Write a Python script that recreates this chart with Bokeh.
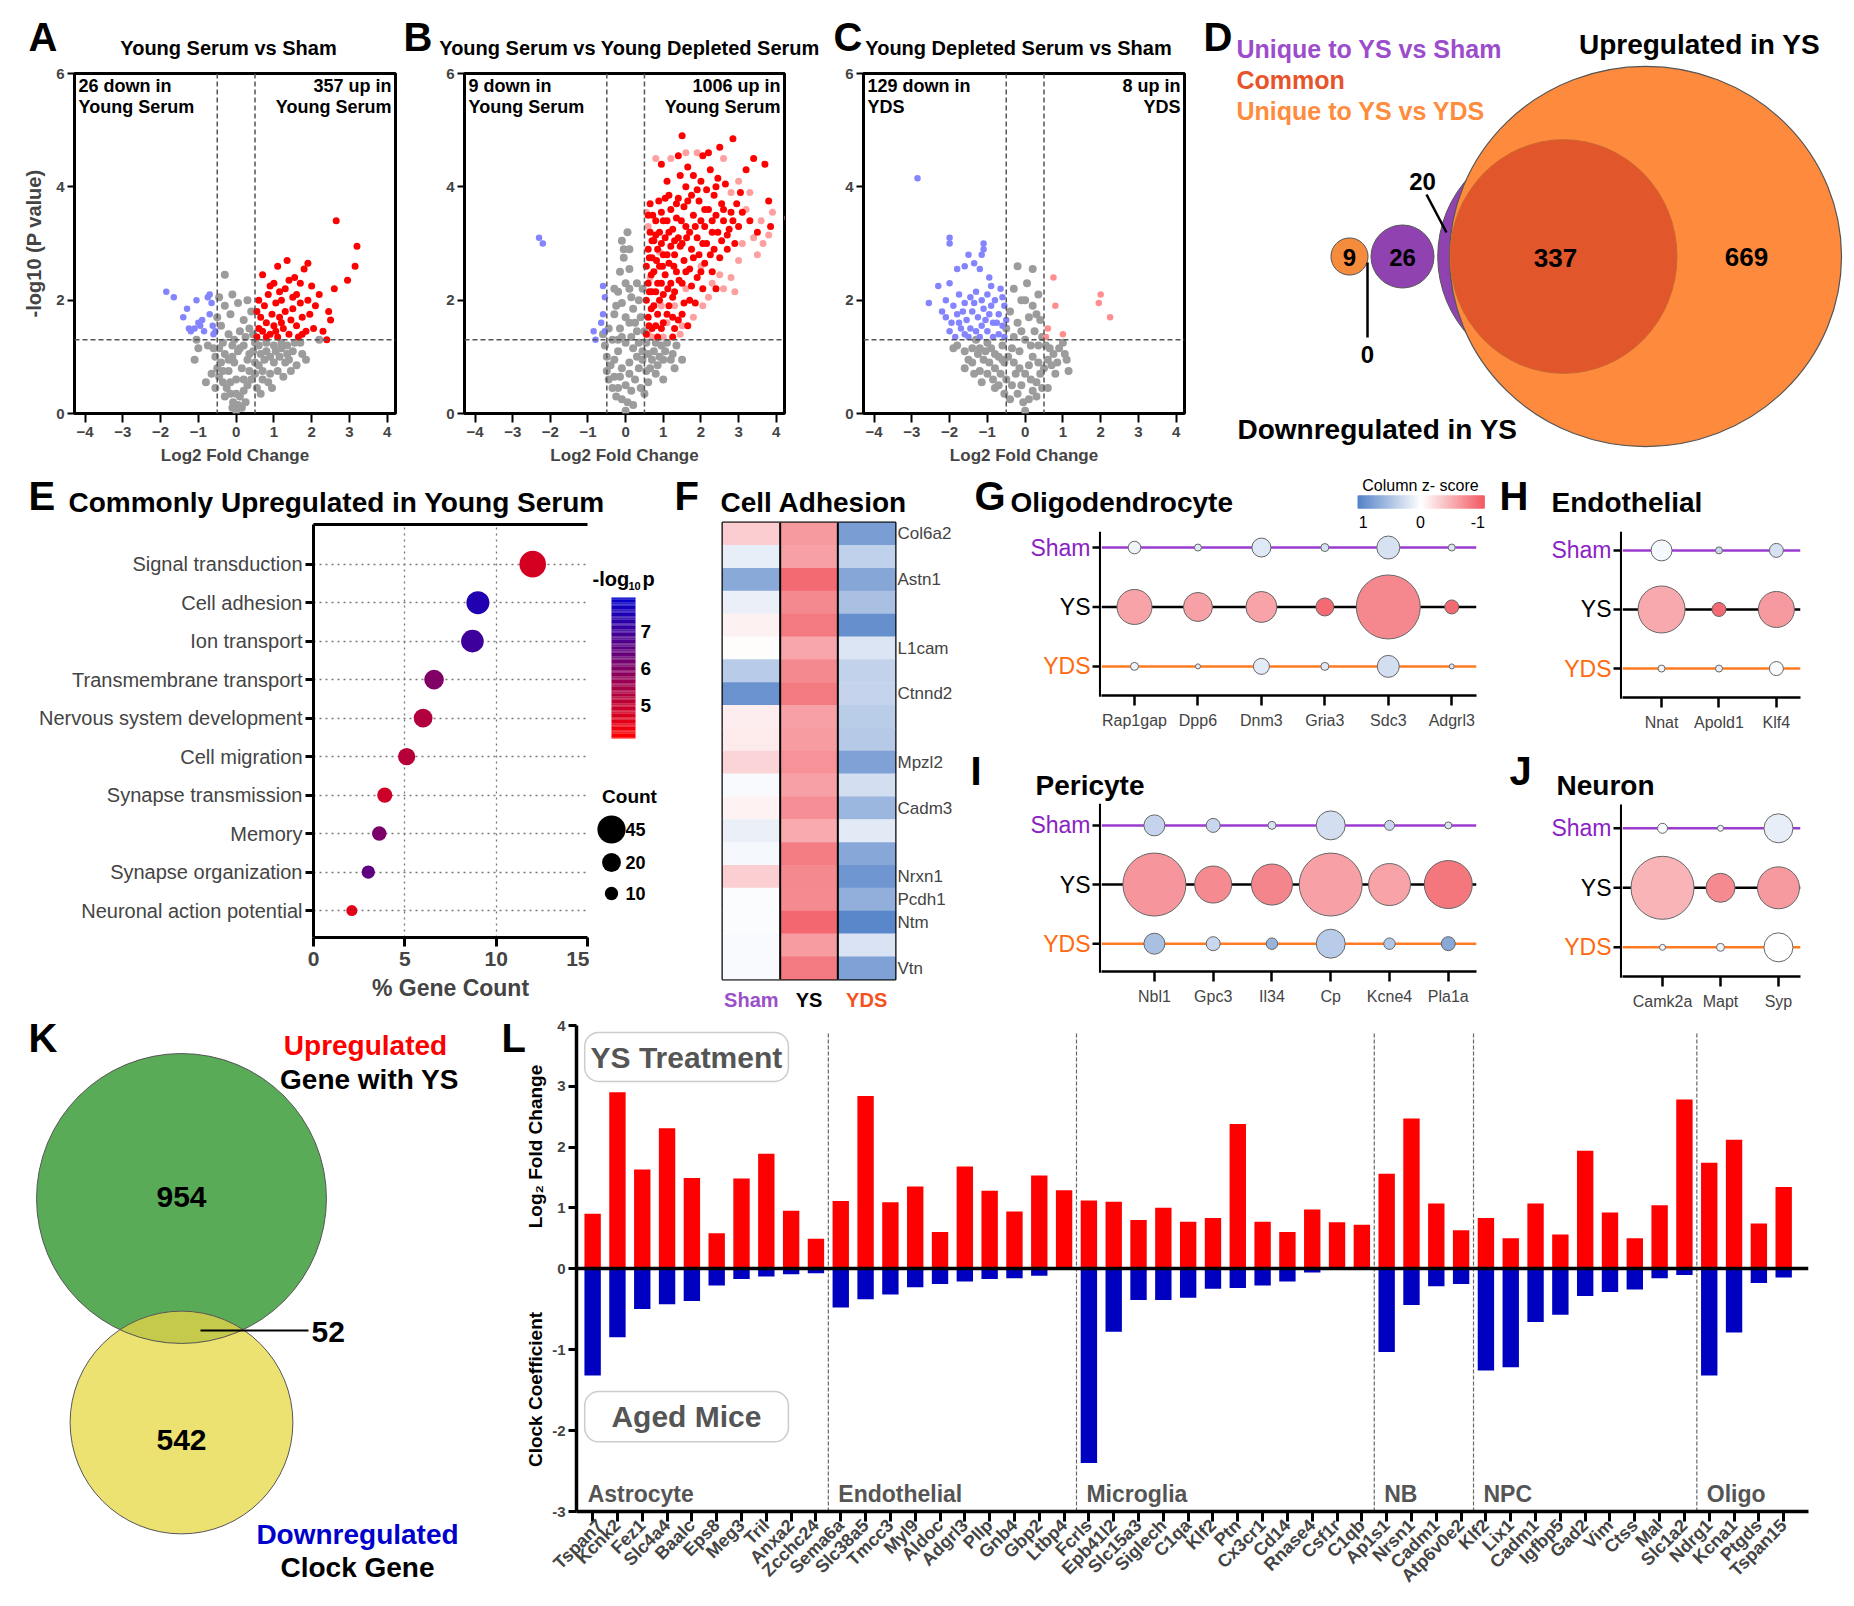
import math
import numpy as np
from bokeh.plotting import figure
from bokeh.models import (Range1d, Label, LinearAxis, FixedTicker, Span, BoxAnnotation, Grid,
                          ColumnDataSource, Spacer)
from bokeh.layouts import row, column
from bokeh.transform import linear_cmap
from bokeh.embed import file_html
from bokeh.resources import INLINE

# ======================= DATA =======================
# --- A: Young Serum vs Sham (log2FC, -log10 p) ---
A_gray = [(0,0.05),(0.05,0.15),(-0.08,0.2),(0.1,0.3),(-0.15,0.35),(0.2,0.4),(-0.25,0.45),(0.3,0.5),(-0.35,0.55),
          (0.4,0.6),(-0.45,0.65),(0.5,0.7),(-0.5,0.8),(0.6,0.85),(-0.4,0.9),(0.75,0.95),(-0.55,1.0),(0.9,1.0),
          (-0.3,1.05),(1.05,1.1),(-0.6,1.15),(1.2,1.15),(0.0,0.6),(0.15,0.8),(-0.2,0.75),(0.3,0.95),(-0.1,1.0),
          (0.45,1.1),(0.2,1.2),(-0.35,1.25),(0.6,1.2),(0.8,1.25),(1.35,1.2),(1.5,1.1),(1.7,1.25),(1.85,0.95),
          (2.2,1.3),(1.6,0.85),(1.3,0.9),(1.1,0.75),(-0.2,1.4),(0.1,1.45),(0.35,1.5),(-0.4,1.55),(0.2,1.65),
          (-0.15,1.75),(0.4,1.8),(-0.3,1.9),(0.05,1.95),(0.3,2.0),(-0.45,2.05),(-0.1,2.1),(-0.3,2.45),(0.25,1.35),
          (-0.05,1.3),(0.45,1.4),(-0.5,1.7),(-1.0,1.15),(-1.1,0.95),(-0.8,0.55),(-1.05,1.3),(0.0,0.35),(-0.05,0.9),
          (0.1,1.15),(0.35,0.75),(-0.3,0.3),(0.25,0.2),(-0.65,0.7),(0.7,0.6),(0.9,0.7),(-0.75,1.2),
          (-0.15,0.55),(0.2,0.6),(-0.35,0.75),(0.5,0.9),(-0.2,0.95),(0.05,1.1),(0.35,1.05),(-0.45,1.15),
          (0.65,1.05),(-0.1,1.2),(0.55,0.45),(0.7,0.75),(0.85,0.55),(1.0,0.9),(1.15,1.0),(1.25,0.65),(1.4,0.95),
          (1.45,0.75),(1.55,1.25),(1.0,1.2),(0.95,0.45),(0.8,1.1),(1.2,1.25),(0.65,0.35),(1.75,1.05),(1.35,1.05),
          (0.5,1.25),(0.15,0.1),(-0.1,0.1),(-0.55,0.45)]
A_red = [(0.55,1.35),(0.6,1.5),(0.65,1.7),(0.7,1.45),(0.75,1.9),(0.8,1.6),(0.85,2.1),(0.9,1.4),(0.95,1.75),
         (1.0,2.3),(1.0,1.55),(1.05,1.95),(1.1,1.35),(1.1,2.6),(1.15,1.7),(1.2,2.0),(1.25,1.5),(1.3,2.2),(1.3,1.8),
         (1.35,2.7),(1.4,1.4),(1.45,1.65),(1.5,2.05),(1.5,1.85),(1.55,2.4),(1.6,1.55),(1.65,1.35),(1.7,1.95),
         (1.7,2.3),(1.75,1.7),(1.8,2.55),(1.85,1.45),(1.9,2.0),(1.9,2.65),(1.95,1.75),(2.0,2.25),(2.05,1.5),
         (2.1,1.9),(2.2,2.1),(2.3,1.45),(2.45,1.8),(2.5,1.65),(2.6,2.2),(2.65,3.4),(2.95,2.35),(3.15,2.6),
         (3.2,2.95),(0.6,2.0),(0.7,2.45),(0.9,2.25),(1.2,1.6),(1.4,2.35),(0.55,1.8),(1.6,2.1),(1.15,2.15),
         (0.8,1.35),(1.75,1.4),(2.4,1.3),(1.05,1.45)]
A_blue = [(-1.85,2.15),(-1.65,2.05),(-1.4,1.7),(-1.3,1.85),(-1.25,1.5),(-1.2,1.45),(-1.05,2.0),(-1.0,1.6),
          (-0.95,1.55),(-0.9,1.65),(-0.75,2.05),(-0.7,2.1),(-0.65,1.95),(-0.62,1.55),(-0.7,1.75),(-0.55,1.45),
          (-0.6,1.4),(-1.1,1.5),(-0.85,1.45)]
# --- B: Young Serum vs Young Depleted Serum ---
B_gray = [(0,0.05),(0.05,0.2),(-0.1,0.25),(0.15,0.4),(-0.2,0.45),(0.25,0.6),(-0.3,0.65),(0.35,0.8),(-0.4,0.85),
          (0.45,0.95),(-0.5,1.0),(0.6,1.05),(-0.55,1.2),(0.75,1.1),(0.9,1.0),(1.05,1.1),(1.2,0.95),(1.5,0.95),
          (1.35,1.2),(0.0,0.5),(-0.1,0.8),(0.1,0.9),(0.2,1.15),(-0.2,1.1),(0.0,1.25),(0.35,1.25),(-0.35,1.3),
          (0.3,1.45),(-0.15,1.5),(0.1,1.6),(0.4,1.7),(-0.3,1.75),(0.2,1.85),(-0.1,1.95),(0.35,2.0),(0.45,2.2),
          (0.3,2.3),(-0.2,2.15),(0.0,2.3),(-0.15,2.5),(0.1,2.55),(-0.05,2.75),(0.1,2.9),(-0.1,3.05),(0.05,3.2),
          (-0.3,2.2),(-0.45,1.5),(0.5,1.45),(0.55,1.25),(-0.25,0.3),(0.2,0.15),(0.65,0.8),(0.8,0.7),(-0.6,1.4),
          (0.15,2.05),(0.25,1.6),(-0.25,1.9),(-0.45,0.6),(-0.05,2.9),
          (-0.15,0.65),(0.1,0.7),(-0.3,0.95),(0.3,1.0),(-0.1,1.35),(0.15,1.35),(0.0,1.7),(-0.2,1.3),(0.45,1.1),
          (0.1,2.2),(0.5,0.35),(0.6,0.55),(0.7,0.95),(0.85,0.85),(1.0,0.95),(1.1,1.25),(0.95,1.2),(0.8,1.25),
          (1.25,1.05),(0.4,0.45),(0.55,0.75),(-0.35,0.45),(-0.5,0.75),(1.0,0.6),(1.3,0.8)]
B_red = [(0.55,1.4),(0.6,1.7),(0.55,2.0),(0.6,2.3),(0.55,2.6),(0.6,2.9),(0.65,3.2),(0.6,3.5),(0.65,3.7),(0.7,1.5),
         (0.75,1.9),(0.7,2.15),(0.75,2.5),(0.7,2.75),(0.75,3.05),(0.8,3.4),(0.85,1.35),(0.85,1.75),(0.9,2.0),
         (0.85,2.3),(0.9,2.6),(0.85,2.9),(0.9,3.2),(0.95,3.55),(0.95,4.4),(1.0,1.6),(1.0,2.1),(1.05,2.45),(1.0,2.8),
         (1.05,3.1),(1.1,3.4),(1.05,3.8),(1.1,4.1),(1.15,1.9),(1.2,2.3),(1.15,2.65),(1.2,2.95),(1.25,3.25),
         (1.2,3.6),(1.3,1.5),(1.3,2.15),(1.35,2.5),(1.3,2.8),(1.4,3.1),(1.35,3.45),(1.4,3.8),(1.45,4.2),(1.5,4.9),
         (1.5,1.75),(1.5,2.3),(1.55,2.7),(1.5,3.0),(1.6,3.3),(1.55,3.65),(1.6,4.0),(1.65,4.35),(1.7,2.0),
         (1.7,2.55),(1.75,2.9),(1.7,3.2),(1.8,3.5),(1.75,3.85),(1.8,4.2),(1.85,1.95),(1.9,2.4),(1.95,2.8),
         (1.9,3.1),(2.0,3.4),(1.95,3.75),(2.0,4.1),(2.05,4.55),(2.1,2.65),(2.15,3.0),(2.1,3.3),(2.2,3.6),
         (2.15,3.95),(2.25,4.3),(2.3,2.5),(2.35,2.9),(2.3,3.2),(2.4,3.5),(2.35,3.85),(2.45,4.15),(2.5,4.7),
         (2.5,2.75),(2.55,3.05),(2.6,3.4),(2.55,3.7),(2.65,4.05),(2.7,2.9),(2.75,3.25),(2.8,3.55),(2.85,4.85),
         (2.9,3.0),(2.95,3.7),(3.0,3.3),(3.1,3.55),(3.2,4.3),(3.3,3.4),(3.4,4.5),(3.5,3.2),(3.8,3.75),(3.85,3.3),
         (3.7,4.4),(2.4,2.2),(1.65,1.55),(1.25,1.35),(2.05,2.2),(1.4,4.55),(2.2,4.6),
         (0.62,1.55),(0.68,1.85),(0.63,2.15),(0.68,2.45),(0.63,2.75),(0.7,3.05),(0.72,3.5),(0.8,1.55),(0.8,2.15),
         (0.82,2.7),(0.8,3.15),(0.88,3.75),(0.95,1.5),(0.95,2.3),(0.98,2.6),(0.95,3.0),(1.0,3.4),(1.1,1.75),
         (1.12,2.2),(1.1,2.8),(1.15,3.2),(1.15,3.85),(1.25,1.7),(1.25,2.05),(1.28,2.6),(1.3,3.05),(1.35,3.7),
         (1.4,1.65),(1.42,2.35),(1.45,2.95),(1.48,3.4),(1.55,1.95),(1.6,2.5),(1.62,3.1),(1.65,3.75),(1.75,2.25),
         (1.8,2.75),(1.85,3.3),(1.9,3.95),(2.0,2.5),(2.05,3.0),(2.1,3.6),(2.25,2.8),(2.3,3.4),(2.45,3.2),
         (2.6,3.6),(2.7,3.15),(2.85,3.4),(3.05,3.9),(2.4,4.0)]
B_pink = [(0.55,3.55),(0.6,3.3),(0.65,2.4),(0.8,4.5),(0.9,2.85),(1.0,1.35),(1.1,1.6),(1.3,1.9),(1.45,1.4),
          (1.6,4.6),(1.9,4.6),(2.05,1.9),(2.3,2.3),(2.5,2.45),(2.6,2.2),(2.8,2.4),(2.8,3.9),(2.9,2.15),(3.0,4.1),
          (3.1,3.0),(3.2,3.6),(3.3,3.9),(3.4,3.1),(3.6,3.4),(3.8,3.15),(3.9,3.55),(4.3,3.45),(3.5,2.8),(2.0,2.6),
          (1.6,2.2),(0.7,1.35),(0.95,1.9),(1.2,4.5),(2.6,4.5),(3.0,2.7),(1.5,1.55),(2.2,2.05),(1.8,1.7),(0.6,1.4),
          (3.65,3.0)]
B_blue = [(-2.3,3.1),(-2.2,3.0),(-0.65,1.6),(-0.6,2.25),(-0.55,2.05),(-0.85,1.45),(-0.8,1.3),(-0.55,1.45),
          (-0.6,1.75)]
# --- C: Young Depleted Serum vs Sham ---
C_gray = [(0,0.05),(-0.05,0.2),(0.1,0.25),(-0.2,0.35),(0.2,0.4),(-0.35,0.5),(0.3,0.55),(-0.5,0.6),(0.4,0.7),
          (-0.65,0.7),(0.5,0.8),(-0.8,0.8),(-0.95,0.9),(0.6,0.95),(-1.1,0.95),(-1.25,1.05),(0.75,1.05),(-1.4,1.15),
          (0.9,1.15),(-1.6,1.1),(-1.8,1.2),(1.1,0.95),(1.15,0.75),(-1.5,0.95),(-1.2,0.75),(-0.9,1.15),(-0.6,1.2),
          (-0.3,0.9),(0.0,0.7),(0.2,1.0),(-0.15,1.1),(0.35,1.2),(-0.45,1.0),(-0.7,1.0),(0.0,1.3),(-0.3,1.35),
          (0.25,1.45),(-0.2,1.6),(0.1,1.7),(0.4,1.65),(-0.4,1.8),(0.2,1.9),(-0.1,2.0),(0.35,2.1),(-0.3,2.2),
          (0.05,2.3),(0.2,2.55),(-0.2,2.6),(0.45,1.35),(-0.5,1.5),(0.55,1.2),(-1.0,1.25),(-0.1,0.5),(0.1,0.85),
          (-1.9,1.15),(-1.3,1.3),(0.8,0.7),(-0.8,0.45),(0.45,0.45),(-0.55,0.35),(1.0,1.25),(-0.15,0.8),(0.3,1.75),
          (0.0,2.0),(-0.25,0.7),(0.15,0.6),(-0.55,0.9),(0.35,0.9),(-0.8,1.05),(-0.35,1.15),(0.15,1.2),(0.65,1.15),
          (-1.05,1.1),(-0.1,1.45),(-1.4,0.9),(-1.15,0.55),(-1.0,0.7),(-0.85,0.6),(-0.7,0.5),(-1.6,0.8),(-1.35,0.7),
          (0.6,0.45),(0.7,0.85),(0.85,0.9),(-0.4,0.25),(0.3,0.3),(-0.6,0.95),(-1.2,1.15),(1.05,1.05)]
C_blue = [(-2.85,4.15),(-2.0,3.1),(-2.0,3.0),(-1.1,3.0),(-1.1,2.9),(-1.15,2.8),(-1.5,2.8),(-1.35,2.65),(-1.6,2.6),
          (-1.8,2.55),(-1.2,2.55),(-2.3,2.25),(-2.0,2.3),(-0.95,2.4),(-0.9,2.25),(-2.55,1.95),(-2.1,2.0),(-1.9,1.9),
          (-1.75,2.1),(-1.6,1.95),(-1.45,2.05),(-1.3,2.15),(-1.15,2.0),(-1.0,2.1),(-0.8,2.0),(-0.65,2.2),
          (-0.55,1.9),(-2.1,1.7),(-1.95,1.6),(-1.8,1.75),(-1.7,1.5),(-1.55,1.65),(-1.4,1.8),(-1.25,1.7),(-1.1,1.85),
          (-0.95,1.75),(-0.85,1.6),(-0.7,1.75),(-0.6,1.55),(-2.0,1.45),(-1.85,1.35),(-1.6,1.4),(-1.45,1.5),
          (-1.3,1.45),(-1.15,1.55),(-1.0,1.45),(-0.85,1.35),(-0.7,1.4),(-0.55,1.35),(-1.2,1.35),(-0.75,1.6),
          (-1.65,1.8),(-1.05,1.65),(-0.9,1.9),(-2.2,1.8),(-1.35,1.95),(-0.6,2.05),(-0.5,1.65),(-1.5,1.35),
          (-1.75,1.6)]
C_pink = [(0.75,2.4),(0.8,1.9),(2.0,2.1),(1.95,1.95),(2.25,1.7),(1.0,1.4),(0.55,1.35),(0.6,1.5)]
VOLCANO_COUNTS = {"A": ("26 down in", "Young Serum", "357 up in", "Young Serum"),
                  "B": ("9 down in", "Young Serum", "1006 up in", "Young Serum"),
                  "C": ("129 down in", "YDS", "8 up in", "YDS")}

# --- D: Venn counts ---
D_up_sham_only, D_up_common, D_up_yds_only = 20, 337, 669
D_down_sham, D_down_yds, D_down_common = 26, 9, 0

# --- E: GO terms ---
E_terms = ["Signal transduction", "Cell adhesion", "Ion transport", "Transmembrane transport",
           "Nervous system development", "Cell migration", "Synapse transmission", "Memory",
           "Synapse organization", "Neuronal action potential"]
E_pct = [12.0, 9.0, 8.7, 6.6, 6.0, 5.1, 3.9, 3.6, 3.0, 2.1]
E_count = [40, 30, 29, 22, 20, 17, 13, 12, 10, 7]
E_logp = [4.74, 7.43, 7.0, 6.0, 5.25, 5.2, 4.85, 6.1, 6.5, 4.55]
E_count_legend = [45, 20, 10]

# --- F: Cell adhesion heatmap (column z-score) ---
F_genes = ["Col6a2", "", "Astn1", "", "", "L1cam", "", "Ctnnd2", "", "", "Mpzl2", "", "Cadm3", "", "",
           "Nrxn1", "Pcdh1", "Ntm", "", "Vtn"]
F_sham = [-0.33, 0.15, 0.76, 0.14, -0.10, -0.02, 0.46, 0.97, -0.13, -0.14, -0.29, 0.05, -0.09, 0.14, 0.07,
          -0.32, 0.03, 0.03, 0.05, 0.05]
F_ys = [-0.67, -0.63, -0.99, -0.78, -0.89, -0.60, -0.78, -0.89, -0.63, -0.66, -0.73, -0.63, -0.75, -0.57, -0.87,
        -0.78, -0.77, -1.01, -0.66, -0.89]
F_yds = [0.86, 0.41, 0.79, 0.56, 0.99, 0.23, 0.40, 0.38, 0.45, 0.47, 0.83, 0.29, 0.64, 0.19, 0.78, 0.93, 0.71,
         1.06, 0.25, 0.83]
F_cols = ["Sham", "YS", "YDS"]

# --- G-J: bubble plots (expression level -> size, column z-score -> colour) ---
G_genes = ["Rap1gap", "Dpp6", "Dnm3", "Gria3", "Sdc3", "Adgrl3"]
G_sham_expr = [1.26, 0.7, 1.9, 0.8, 2.3, 0.7]
G_ys_expr = [3.5, 2.9, 3.1, 1.8, 6.4, 1.4]
G_yds_expr = [0.8, 0.5, 1.6, 0.8, 2.2, 0.5]
G_sham_z = [0.10, 0.20, 0.21, 0.27, 0.27, 0.25]
G_ys_z = [-0.61, -0.63, -0.61, -0.99, -0.79, -0.99]
G_yds_z = [0.11, 0.15, 0.18, 0.20, 0.29, 0.25]

H_genes = ["Nnat", "Apold1", "Klf4"]
H_sham_expr = [2.1, 0.7, 1.4]
H_ys_expr = [4.7, 1.4, 3.6]
H_yds_expr = [0.7, 0.7, 1.4]
H_sham_z = [0.07, 0.36, 0.27]
H_ys_z = [-0.58, -0.99, -0.67]
H_yds_z = [0.11, 0.15, 0.05]

I_genes = ["Nbl1", "Gpc3", "Il34", "Cp", "Kcne4", "Pla1a"]
I_sham_expr = [2.1, 1.4, 0.8, 2.9, 1.0, 0.7]
I_ys_expr = [6.3, 3.7, 4.1, 6.3, 4.2, 4.8]
I_yds_expr = [2.1, 1.4, 1.15, 2.9, 1.15, 1.4]
I_sham_z = [0.38, 0.36, 0.25, 0.29, 0.36, 0.25]
I_ys_z = [-0.71, -0.77, -0.81, -0.63, -0.61, -0.90]
I_yds_z = [0.56, 0.36, 0.67, 0.46, 0.51, 0.77]

J_genes = ["Camk2a", "Mapt", "Syp"]
J_sham_expr = [1.0, 0.6, 2.9]
J_ys_expr = [6.3, 2.9, 4.2]
J_yds_expr = [0.6, 0.8, 2.9]
J_sham_z = [0.05, 0.11, 0.15]
J_ys_z = [-0.50, -0.77, -0.67]
J_yds_z = [0.10, 0.11, 0.0]

# --- K: Venn counts ---
K_up_only, K_both, K_clock_only = 954, 52, 542

# --- L: YS log2FC vs clock coefficient ---
L_groups = ["Astrocyte", "Endothelial", "Microglia", "NB", "NPC", "Oligo"]
L_group_sizes = [10, 10, 12, 4, 9, 4]
L_genes = ["Tspan7", "Kcnk2", "Fez1", "Slc4a4", "Baalc", "Eps8", "Meg3", "Tril", "Anxa2", "Zcchc24",
           "Sema6a", "Slc38a5", "Tmcc3", "Myl9", "Aldoc", "Adgrl3", "Pllp", "Gnb4", "Gbp2", "Ltbp4",
           "Fcrls", "Epb41l2", "Slc15a3", "Siglech", "C1qa", "Klf2", "Ptn", "Cx3cr1", "Cd14", "Rnase4", "Csf1r", "C1qb",
           "Ap1s1", "Nrsn1", "Cadm1", "Atp6v0e2",
           "Klf2", "Lix1", "Cadm1", "Igfbp5", "Gad2", "Vim", "Ctss", "Mal", "Slc1a2",
           "Ndrg1", "Kcna1", "Ptgds", "Tspan15"]
L_fc = [0.90, 2.90, 1.63, 2.31, 1.49, 0.58, 1.48, 1.89, 0.95, 0.49,
        1.11, 2.84, 1.09, 1.35, 0.60, 1.68, 1.28, 0.94, 1.53, 1.29,
        1.12, 1.10, 0.80, 1.00, 0.77, 0.83, 2.38, 0.77, 0.60, 0.97, 0.76, 0.72,
        1.56, 2.47, 1.07, 0.63,
        0.83, 0.50, 1.07, 0.56, 1.94, 0.92, 0.50, 1.04, 2.78,
        1.74, 2.12, 0.74, 1.34]
L_clock = [-1.32, -0.85, -0.50, -0.44, -0.40, -0.21, -0.13, -0.10, -0.07, -0.06,
           -0.48, -0.38, -0.32, -0.23, -0.19, -0.16, -0.13, -0.12, -0.09, -0.02,
           -2.40, -0.78, -0.39, -0.39, -0.36, -0.25, -0.24, -0.21, -0.16, -0.05, -0.01, -0.01,
           -1.03, -0.45, -0.22, -0.19,
           -1.26, -1.22, -0.66, -0.57, -0.34, -0.29, -0.26, -0.12, -0.08,
           -1.32, -0.79, -0.18, -0.11]

# ======================= STYLE / HELPERS =======================
FONT = "'Liberation Sans', Arial, Helvetica, sans-serif"
RED, PINK, BLUEPT, GRAY = "#ff0000", "#ffa0a0", "#8484ff", "#9c9c9c"
SHAM_TXT, SHAM_LINE, YDS_TXT, YDS_LINE = "#8a22c4", "#9a3cd0", "#ff6a10", "#ff7a22"


def blend(c0, c1, n):
    out = []
    for i in range(n):
        t = i / (n - 1)
        out.append("#%02x%02x%02x" % tuple(int(round(a + (b - a) * t)) for a, b in zip(c0, c1)))
    return out


DIV_PAL = blend((240, 75, 85), (255, 255, 255), 128) + blend((255, 255, 255), (70, 120, 195), 128)
DIV_LO, DIV_HI = -1.2, 1.2
E_PAL = blend((255, 0, 0), (0, 0, 204), 256)
E_LO, E_HI = 4.09, 7.94
LET = 17  # offset from panel-letter baseline to its middle (40px bold)


def mkfig(tile, frame=None, xr=None, yr=None):
    x0, y0, x1, y1 = tile
    if frame is None:
        frame = tile
    fx0, fy0, fx1, fy1 = frame
    if xr is None:
        xr = Range1d(fx0, fx1)
    if yr is None:
        yr = Range1d(fy1, fy0)
    p = figure(width=x1 - x0, height=y1 - y0, x_range=xr, y_range=yr,
               x_axis_type=None, y_axis_type=None, output_backend="svg", toolbar_location=None,
               min_border_left=fx0 - x0, min_border_right=x1 - fx1,
               min_border_top=fy0 - y0, min_border_bottom=y1 - fy1)
    p.frame_align = False
    p.extra_x_ranges = {"px": Range1d(fx0, fx1)}
    p.extra_y_ranges = {"px": Range1d(fy1, fy0)}
    p.outline_line_color = None
    p.background_fill_color = "white"
    p.border_fill_color = "white"
    return p


def lab(p, x, y, s, size, color="black", bold=True, align="left", baseline="middle", angle=0.0,
        xr="px", yr="px"):
    p.add_layout(Label(x=x, y=y, x_range_name=xr, y_range_name=yr, text=s, text_font=FONT,
                       text_font_size=f"{size}px", text_font_style="bold" if bold else "normal",
                       text_color=color, text_align=align, text_baseline=baseline, angle=angle))


def axis(ticks, overrides=None, size=15, bold=True, line_w=2.0, tick_out=8, tick_w=2.0, show_line=True,
         standoff=4, label=None, label_size=17, label_standoff=5):
    a = LinearAxis(ticker=FixedTicker(ticks=ticks), minor_tick_line_color=None,
                   major_tick_in=0, major_tick_out=tick_out, major_tick_line_width=tick_w,
                   axis_line_width=line_w, axis_line_color="black" if show_line else None,
                   major_label_text_font=FONT, major_label_text_font_size=f"{size}px",
                   major_label_text_font_style="bold" if bold else "normal",
                   major_label_standoff=standoff)
    if tick_w == 0:
        a.major_tick_line_color = None
    if overrides is not None:
        a.major_label_overrides = overrides
    if label is not None:
        a.axis_label = label
        a.axis_label_text_font = FONT
        a.axis_label_text_font_size = f"{label_size}px"
        a.axis_label_text_font_style = "bold"
        a.axis_label_standoff = label_standoff
    return a


def xs_of(pts):
    return [q[0] for q in pts]


def ys_of(pts):
    return [q[1] for q in pts]


# ======================= A-C VOLCANO =======================
def volcano(x0, x1, frame, letter, letter_x, title, title_cx, groups, key, ylabel):
    fx0, fy0, fx1, fy1 = frame
    head = mkfig((x0, 8, x1, 66))
    lab(head, letter_x, 53 - 16, letter, 40)
    lab(head, title_cx, 48, title, 20, align="center")
    p = mkfig((x0, 66, x1, 476), frame, Range1d(-4.28, 4.22), Range1d(0, 6))
    p.outline_line_color = "black"
    p.outline_line_width = 3
    p.add_layout(axis(list(range(-4, 5)), size=15, show_line=False, tick_out=9, standoff=4,
                      label="Log2 Fold Change", label_size=17, label_standoff=6), "below")
    p.add_layout(axis([0, 2, 4, 6], size=15, show_line=False, tick_out=7, standoff=3,
                      label="-log10 (P value)" if ylabel else None, label_size=20, label_standoff=8), "left")
    for pts, col, sz in groups:
        p.scatter(xs_of(pts), ys_of(pts), size=sz, fill_color=col, line_color=None)
    for v in (-0.5, 0.5):
        p.add_layout(Span(location=v, dimension="height", line_color="#555555", line_dash="5 3", line_width=1.5))
    p.add_layout(Span(location=1.3, dimension="width", line_color="#555555", line_dash="5 3", line_width=1.5))
    tl0, tl1, tr0, tr1 = VOLCANO_COUNTS[key]
    lab(p, fx0 + 4, 86, tl0, 18)
    lab(p, fx0 + 4, 107, tl1, 18)
    lab(p, fx1 - 4, 86, tr0, 18, align="right")
    lab(p, fx1 - 4, 107, tr1, 18, align="right")
    return column(head, p)


colA = volcano(8, 400, (75, 74, 396, 414), "A", 29, "Young Serum vs Sham", 229,
               [(A_gray, GRAY, 8), (A_blue, BLUEPT, 6.5), (A_red, RED, 7)], "A", True)
colB = volcano(400, 830, (465, 74, 785, 414), "B", 404, "Young Serum vs Young Depleted Serum", 630,
               [(B_gray, GRAY, 8), (B_blue, BLUEPT, 6.5), (B_pink, PINK, 7), (B_red, RED, 7)], "B", False)
colC = volcano(830, 1200, (864, 74, 1185, 414), "C", 834, "Young Depleted Serum vs Sham", 1019,
               [(C_gray, GRAY, 8), (C_blue, BLUEPT, 6.5), (C_pink, "#ff8f8f", 6.5)], "C", False)

# ======================= D VENN =======================
pD = mkfig((1200, 8, 1846, 476))
kD = 6.18
r_big = kD * math.sqrt(D_up_common + D_up_yds_only)
r_pur = kD * math.sqrt(D_up_common + D_up_sham_only)
r_com = kD * math.sqrt(D_up_common)
r_26 = kD * math.sqrt(D_down_sham + D_down_common)
r_9 = kD * math.sqrt(D_down_yds + D_down_common)
cy = 257
pD.ellipse(x=[1555], y=[cy], width=[2 * r_pur], height=[2 * r_pur], fill_color="#9043b0", line_color="#555555", line_width=1)
pD.ellipse(x=[1646], y=[cy], width=[2 * r_big], height=[2 * r_big * 0.97], fill_color="#fd8a3d", line_color="#555555", line_width=1.2)
pD.ellipse(x=[1564], y=[cy], width=[2 * r_com], height=[2 * r_com * 1.03], fill_color="#e2562b", line_color="#c9682f", line_width=1)
pD.ellipse(x=[1403], y=[cy], width=[2 * r_26], height=[2 * r_26], fill_color="#9043b0", line_color="#555555", line_width=1)
pD.ellipse(x=[1350], y=[cy], width=[2 * r_9], height=[2 * r_9], fill_color="#f58b3c", line_color="#555555", line_width=1)
pD.segment(x0=[1427, 1368], y0=[195, 263], x1=[1447, 1368], y1=[233, 338], line_color="black", line_width=2.5)
lab(pD, 1204, 53 - 16, "D", 40)
lab(pD, 1237, 49, "Unique to YS vs Sham", 25, color="#9c4dcc")
lab(pD, 1237, 80, "Common", 25, color="#e8542a")
lab(pD, 1237, 111, "Unique to YS vs YDS", 25, color="#ff8b3d")
lab(pD, 1700, 45, "Upregulated in YS", 28, align="center")
lab(pD, 1238, 430, "Downregulated in YS", 28)
lab(pD, 1350, cy + 1, str(D_down_yds), 24, align="center")
lab(pD, 1403, cy + 1, str(D_down_sham), 24, align="center")
lab(pD, 1556, cy + 1, str(D_up_common), 26, align="center")
lab(pD, 1747, cy, str(D_up_yds_only), 26, align="center")
lab(pD, 1423, 182, str(D_up_sham_only), 24, align="center")
lab(pD, 1368, 355, str(D_down_common), 24, align="center")

# ======================= E DOT PLOT =======================
pEh = mkfig((8, 476, 668, 520))
lab(pEh, 29, 513 - LET, "E", 40)
lab(pEh, 69, 503, "Commonly Upregulated in Young Serum", 28)

E_y = list(range(len(E_terms), 0, -1))
pE = mkfig((8, 520, 590, 1016), (314, 525, 588, 938), Range1d(0, 15), Range1d(0.30, 11.03))
pE.add_layout(Grid(dimension=0, ticker=FixedTicker(ticks=[5, 10]), grid_line_color="#777777",
                   grid_line_dash="dotted", grid_line_width=1.3))
pE.add_layout(Grid(dimension=1, ticker=FixedTicker(ticks=E_y), grid_line_color="#777777",
                   grid_line_dash="dotted", grid_line_width=1.3))
srcE = ColumnDataSource(dict(x=E_pct, y=E_y, s=[4.2 * math.sqrt(c) for c in E_count], lp=E_logp))
pE.scatter("x", "y", size="s", source=srcE, fill_color=linear_cmap("lp", E_PAL, E_LO, E_HI), line_color=None)
pE.add_layout(axis(E_y, {y: t for y, t in zip(E_y, E_terms)}, size=20, bold=False, line_w=3, tick_w=3,
                   tick_out=8, standoff=3), "left")
pE.add_layout(axis([0, 5, 10, 15], size=21, line_w=3, tick_w=3, tick_out=9, standoff=5,
                   label="% Gene Count", label_size=23, label_standoff=6), "below")
pE.add_layout(axis([], line_w=3, tick_out=0, tick_w=0, standoff=0), "above")

pEl = mkfig((590, 520, 668, 1016))
cb_px_per = 141 / (E_HI - E_LO)
pEl.extra_y_ranges["cb"] = Range1d(E_LO - (1016 - 739) / cb_px_per, E_LO + (739 - 520) / cb_px_per)
cb_vals = list(np.linspace(E_LO, E_HI, 121))
dv = cb_vals[1] - cb_vals[0]
srcCB = ColumnDataSource(dict(b=cb_vals[:-1], t=[v + dv * 1.05 for v in cb_vals[:-1]], v=cb_vals[:-1]))
pEl.quad(left=612, right=636, bottom="b", top="t", source=srcCB, y_range_name="cb",
         fill_color=linear_cmap("v", E_PAL, E_LO, E_HI), line_color=None)
for tv in (5, 6, 7):
    lab(pEl, 641, tv, str(tv), 19, yr="cb")
lab(pEl, 593, 579, "-log", 20)
lab(pEl, 629, 586, "10", 11)
lab(pEl, 643, 579, "p", 20)
lab(pEl, 630, 797, "Count", 19, align="center")
leg_y = [830, 863, 894]
pEl.scatter([612] * 3, leg_y, size=[4.2 * math.sqrt(c) for c in E_count_legend], fill_color="black", line_color=None)
for c, yy in zip(E_count_legend, leg_y):
    lab(pEl, 626, yy, str(c), 18)

colE = column(pEh, row(pE, pEl))

# ======================= F HEATMAP =======================
nF = len(F_genes)
pFh = mkfig((668, 476, 965, 520))
lab(pFh, 675, 513 - LET, "F", 40)
lab(pFh, 721, 503, "Cell Adhesion", 28)
pF = mkfig((668, 520, 965, 988), (723, 523, 896, 980), Range1d(0, 3), Range1d(0, nF))
pF.outline_line_color = "black"
pF.outline_line_width = 2
fx, fy, fz = [], [], []
for ci, vals in enumerate([F_sham, F_ys, F_yds]):
    for ri, v in enumerate(vals):
        fx.append(ci + 0.5)
        fy.append(nF - 0.5 - ri)
        fz.append(v)
pF.rect(x="x", y="y", width=1, height=1.02, source=ColumnDataSource(dict(x=fx, y=fy, z=fz)),
        fill_color=linear_cmap("z", DIV_PAL, DIV_LO, DIV_HI), line_color=None)
pF.segment(x0=[1, 2], y0=[0, 0], x1=[1, 2], y1=[nF, nF], line_color="black", line_width=2)
f_ticks = [nF - 0.5 - i for i, g in enumerate(F_genes) if g]
f_over = {nF - 0.5 - i: g for i, g in enumerate(F_genes) if g}
pF.add_layout(axis(f_ticks, f_over, size=17, bold=False, show_line=False, tick_out=0, tick_w=0, standoff=2), "right")
pFf = mkfig((668, 988, 965, 1016))
colw = 173 / 3
for ci, (name, col) in enumerate(zip(F_cols, ["#9b4fc8", "black", "#f4511e"])):
    lab(pFf, 723 + colw * (ci + 0.5), 1000, name, 20, color=col, align="center")
colF = column(pFh, pF, pFf)


# ======================= G-J BUBBLES =======================
def bubble(x0, x1, y0, y1, frame, xr, yr, genes, expr, zs):
    fx0, fy0, fx1, fy1 = frame
    # label strip with coloured row names, y-axis line and ticks
    pl = mkfig((x0, y0, fx0, y1))
    ylo, yhi = yr.start, yr.end

    def ypx(v):
        return fy1 - (v - ylo) / (yhi - ylo) * (fy1 - fy0)

    pl.segment(x0=[fx0 - 1.3], y0=[fy0], x1=[fx0 - 1.3], y1=[fy1 + 1.2], line_color="black", line_width=2.5)
    for v, name, col in ((3, "Sham", SHAM_TXT), (2, "YS", "black"), (1, "YDS", YDS_TXT)):
        pl.segment(x0=[fx0 - 9], y0=[ypx(v)], x1=[fx0], y1=[ypx(v)], line_color="black", line_width=2.5)
        lab(pl, fx0 - 11, ypx(v), name, 23, color=col, bold=False, align="right")
    p = mkfig((fx0, y0, x1, y1), frame, xr, yr)
    for yv, col in ((3, SHAM_LINE), (2, "black"), (1, YDS_LINE)):
        p.add_layout(Span(location=yv, dimension="width", line_color=col, line_width=2.5, level="underlay"))
    n = len(genes)
    bx = list(range(n)) * 3
    by = [3] * n + [2] * n + [1] * n
    bs = [10 * v for v in expr[0] + expr[1] + expr[2]]
    bz = zs[0] + zs[1] + zs[2]
    p.scatter("x", "y", size="s", source=ColumnDataSource(dict(x=bx, y=by, s=bs, z=bz)),
              fill_color=linear_cmap("z", DIV_PAL, DIV_LO, DIV_HI), line_color="#666666", line_width=1)
    p.add_layout(axis(list(range(n)), {i: g for i, g in enumerate(genes)}, size=16, bold=False,
                      line_w=2.5, tick_out=10, tick_w=2.5, standoff=6), "below")
    return [pl, p]


pGHh = mkfig((965, 476, 1846, 532))
lab(pGHh, 975, 513 - LET, "G", 40)
lab(pGHh, 1011, 503, "Oligodendrocyte", 28)
lab(pGHh, 1500, 513 - LET, "H", 40)
lab(pGHh, 1552, 503, "Endothelial", 28)
zcb_x0, zcb_x1, zcb_hi = 1358, 1484, 1.1
zvals = list(np.linspace(zcb_hi, -zcb_hi, 101))
zpx = [zcb_x0 + (zcb_x1 - zcb_x0) * (zcb_hi - v) / (2 * zcb_hi) for v in zvals]
srcZ = ColumnDataSource(dict(l=zpx[:-1], r=[x + 1.4 for x in zpx[1:]], v=zvals[:-1]))
pGHh.quad(left="l", right="r", bottom=509, top=496, source=srcZ,
          fill_color=linear_cmap("v", DIV_PAL, DIV_LO, DIV_HI), line_color=None)
lab(pGHh, (zcb_x0 + zcb_x1) / 2, 486, "Column z- score", 16, bold=False, align="center")
for tv in (1, 0, -1):
    lab(pGHh, zcb_x0 + (zcb_x1 - zcb_x0) * (zcb_hi - tv) / (2 * zcb_hi), 522, str(tv), 16, bold=False,
        align="center")

rowGH = row(*bubble(965, 1495, 532, 748, (1102, 532, 1477, 696), Range1d(-0.52, 5.39), Range1d(0.51, 3.27),
                    G_genes, (G_sham_expr, G_ys_expr, G_yds_expr), (G_sham_z, G_ys_z, G_yds_z)),
            *bubble(1495, 1846, 532, 748, (1623, 532, 1801, 698), Range1d(-0.68, 2.42), Range1d(0.51, 3.32),
                    H_genes, (H_sham_expr, H_ys_expr, H_yds_expr), (H_sham_z, H_ys_z, H_yds_z)))
pIJh = mkfig((965, 748, 1846, 804))
lab(pIJh, 971, 771, "I", 40)
lab(pIJh, 1036, 786, "Pericyte", 28)
lab(pIJh, 1510, 771, "J", 40)
lab(pIJh, 1557, 786, "Neuron", 28)
rowIJ = row(*bubble(965, 1495, 804, 1016, (1102, 804, 1477, 972), Range1d(-0.90, 5.48), Range1d(0.53, 3.37),
                    I_genes, (I_sham_expr, I_ys_expr, I_yds_expr), (I_sham_z, I_ys_z, I_yds_z)),
            *bubble(1495, 1846, 804, 1016, (1623, 805, 1801, 977), Range1d(-0.69, 2.38), Range1d(0.51, 3.40),
                    J_genes, (J_sham_expr, J_ys_expr, J_yds_expr), (J_sham_z, J_ys_z, J_yds_z)))
colGJ = column(pGHh, rowGH, pIJh, rowIJ)

# ======================= K VENN =======================
pK = mkfig((8, 1016, 500, 1598))
kK = 4.57
rg = kK * math.sqrt(K_up_only + K_both)
ryl = kK * math.sqrt(K_clock_only + K_both)
gcx, gcy, ycx, ycy = 182, 1199, 182, 1423
pK.ellipse(x=[gcx], y=[gcy], width=[2 * rg], height=[2 * rg], fill_color="#5aab57", line_color=None)
pK.ellipse(x=[ycx], y=[ycy], width=[2 * ryl], height=[2 * ryl], fill_color="#ece272", line_color=None)
dK = ycy - gcy
aK = (dK * dK + rg * rg - ryl * ryl) / (2 * dK)
hK = math.sqrt(rg * rg - aK * aK)
lx = np.linspace(gcx - hK, gcx + hK, 80)
ltop = ycy - np.sqrt(np.maximum(ryl ** 2 - (lx - ycx) ** 2, 0))
lbot = gcy + np.sqrt(np.maximum(rg ** 2 - (lx - gcx) ** 2, 0))
pK.patch(list(lx) + list(lx[::-1]), list(ltop) + list(lbot[::-1]), fill_color="#c5c94c", line_color=None)
pK.ellipse(x=[gcx, ycx], y=[gcy, ycy], width=[2 * rg, 2 * ryl], height=[2 * rg, 2 * ryl],
           fill_color=None, line_color="#555555", line_width=1)
pK.segment(x0=[201], y0=[1331], x1=[309], y1=[1331], line_color="black", line_width=2)
lab(pK, 29, 1038, "K", 40)
lab(pK, gcx, 1197, str(K_up_only), 30, align="center")
lab(pK, ycx, 1440, str(K_clock_only), 30, align="center")
lab(pK, 312, 1332, str(K_both), 30)
lab(pK, 366, 1046, "Upregulated", 28, color="#ff0000", align="center")
lab(pK, 370, 1080, "Gene with YS", 28, align="center")
lab(pK, 358, 1535, "Downregulated", 28, color="#0000cc", align="center")
lab(pK, 358, 1568, "Clock Gene", 28, align="center")

# ======================= L BARS =======================
POS_K, NEG_K = 3, 4  # upper half: 0..4 log2FC, lower half: 0..-3 clock coefficient (equal heights)
pLl = mkfig((500, 1016, 550, 1598))
lab(pLl, 502, 1038, "L", 40)
lab(pLl, 536, 1147, "Log\u2082 Fold Change", 19, align="center", angle=math.pi / 2)
lab(pLl, 536, 1390, "Clock Coefficient", 19, align="center", angle=math.pi / 2)

pL = mkfig((550, 1016, 1846, 1598), (577, 1026, 1809, 1512), Range1d(0.35, 50.0),
           Range1d(-3 * NEG_K, 4 * POS_K))
Lx = list(range(1, len(L_genes) + 1))
pL.vbar(x=Lx, top=[POS_K * v for v in L_fc], bottom=0, width=0.66, fill_color="#ff0000", line_color=None)
pL.vbar(x=Lx, top=0, bottom=[NEG_K * v for v in L_clock], width=0.66, fill_color="#0000c0", line_color=None)
seps, acc = [], 0
for n in L_group_sizes[:-1]:
    acc += n
    seps.append(acc + 0.5)
pL.segment(x0=seps, y0=[-3 * NEG_K] * len(seps), x1=seps, y1=[3.87 * POS_K] * len(seps),
           line_color="#666666", line_dash="4 2", line_width=1.2)
pL.add_layout(Span(location=0, dimension="width", line_color="black", line_width=3.5))
yt = [4 * POS_K, 3 * POS_K, 2 * POS_K, 1 * POS_K, 0, -1 * NEG_K, -2 * NEG_K, -3 * NEG_K]
yl = {4 * POS_K: "4", 3 * POS_K: "3", 2 * POS_K: "2", 1 * POS_K: "1", 0: "0",
      -1 * NEG_K: "-1", -2 * NEG_K: "-2", -3 * NEG_K: "-3"}
pL.add_layout(axis(yt, yl, size=15, line_w=3.5, tick_out=8, tick_w=3, standoff=3), "left")
xa = axis(Lx, {i: g for i, g in zip(Lx, L_genes)}, size=18, line_w=3.5, tick_out=10, tick_w=3, standoff=1)
xa.major_label_orientation = math.pi / 4
pL.add_layout(xa, "below")
grp_x = [0.8] + [s + 0.4 for s in seps]
for gname, gx in zip(L_groups, grp_x):
    lab(pL, gx, -2.78 * NEG_K, gname, 23, color="#555555", xr="default", yr="default")
pL.add_layout(BoxAnnotation(left=0.68, right=8.89, top=3.885 * POS_K, bottom=3.08 * POS_K,
                            fill_color=None, line_color="#555555", line_width=1.5, border_radius=14))
pL.add_layout(BoxAnnotation(left=0.68, right=8.89, top=-1.52 * NEG_K, bottom=-2.14 * NEG_K,
                            fill_color=None, line_color="#555555", line_width=1.5, border_radius=14))
lab(pL, 4.78, 3.48 * POS_K, "YS Treatment", 30, color="#555555", align="center", xr="default", yr="default")
lab(pL, 4.78, -1.83 * NEG_K, "Aged Mice", 30, color="#555555", align="center", xr="default", yr="default")

# ======================= LAYOUT =======================
row1 = row(colA, colB, colC, pD)
row2 = row(colE, colF, colGJ)
row3 = row(pK, pLl, pL)
main = column(row1, row2, row3)
layout = column(Spacer(height=7, width=1846), row(Spacer(width=7, height=1590), main))

open("out.html", "w").write(file_html(layout, INLINE))
